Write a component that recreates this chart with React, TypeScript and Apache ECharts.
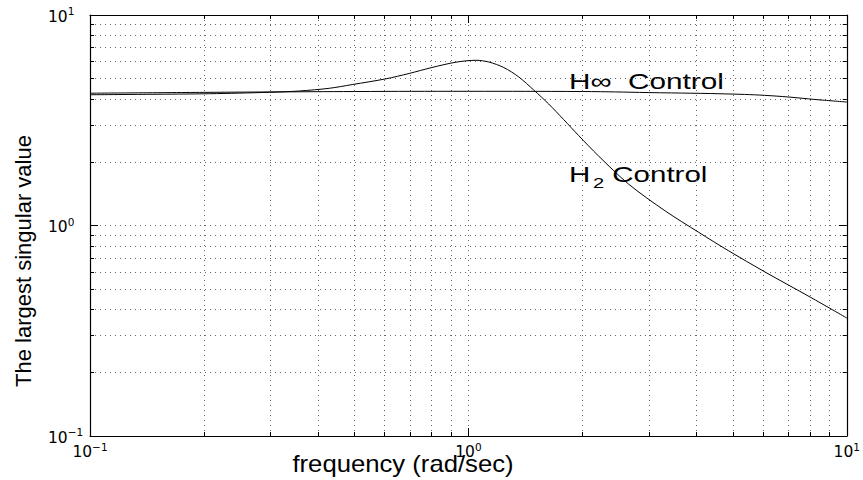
import React, { useEffect, useRef } from "react";
import * as echarts from "echarts";

// H2 control: largest singular value vs frequency (rad/sec)
const freqH2 = [0.1, 0.144, 0.207, 0.298, 0.3575, 0.429, 0.493, 0.606, 0.697, 0.801, 0.927, 1.047, 1.132, 1.24, 1.359, 1.488, 1.63, 1.785, 1.955, 2.208, 2.648, 3.314, 4.05, 4.858, 6.081, 8.037, 10];
const valH2 = [4.18, 4.2, 4.227, 4.293, 4.355, 4.486, 4.671, 4.977, 5.274, 5.631, 5.968, 6.093, 5.981, 5.631, 5.076, 4.402, 3.778, 3.188, 2.677, 2.139, 1.575, 1.172, 0.931, 0.7606, 0.6012, 0.455, 0.3635];

// H-infinity control
const freqHinf = [0.1, 0.2, 0.5, 1, 2, 3, 5, 6.5, 8.5, 10];
const valHinf = [4.25, 4.29, 4.33, 4.34, 4.33, 4.28, 4.21, 4.12, 3.95, 3.86];

const axisMin = 0.1;
const axisMax = 10;

const xTitle = "frequency (rad/sec)";
const yTitle = "The largest singular value";
const labelHinf = "H∞  Control";
const labelH2Main = "H";
const labelH2Sub = "2";
const labelH2Rest = " Control";

const FONT = '"Liberation Sans", Arial, Helvetica, sans-serif';

function expLabel(v: number): string {
  const e = Math.round(Math.log10(v));
  const s = e < 0 ? "\u2212" + Math.abs(e) : String(e);
  return "{b|10}{s|" + s + "}";
}

const labelRich = {
  b: { fontFamily: "DejaVu Sans", fontSize: 15.5, color: "#000", verticalAlign: "bottom" },
  s: { fontFamily: "DejaVu Sans", fontSize: 10.5, color: "#000", verticalAlign: "bottom", padding: [0, 0, 8, 0] },
};

export default function App() {
  const ref = useRef<HTMLDivElement>(null);
  useEffect(() => {
    if (!ref.current) return;
    const chart = echarts.init(ref.current, null, { renderer: "svg" });
    const dotted = { color: "#666", width: 1, type: [1, 4] as any };
    const base = {
      type: "log" as const,
      logBase: 10,
      min: axisMin,
      max: axisMax,
      axisLine: { show: true, onZero: false, lineStyle: { color: "#000", width: 1.2 } },
      axisTick: { show: true, inside: true, length: 8, lineStyle: { color: "#000" } },
      minorTick: { show: true, splitNumber: 9, length: 4, lineStyle: { color: "#000" } },
    };
    const option: any = {
      animation: false,
      backgroundColor: "#fff",
      grid: { left: 90, right: 14, top: 15, bottom: 44, containLabel: false },
      xAxis: [
        {
          ...base,
          position: "bottom",
          axisLabel: { show: true, margin: 5, formatter: expLabel, rich: labelRich },
          splitLine: { show: true, lineStyle: dotted },
          minorSplitLine: { show: true, lineStyle: dotted },
        },
        {
          ...base,
          position: "top",
          axisLabel: { show: false },
          splitLine: { show: false },
          minorSplitLine: { show: false },
        },
      ],
      yAxis: [
        {
          ...base,
          position: "left",
          axisLabel: { show: true, margin: 42, align: "left", formatter: expLabel, rich: labelRich },
          splitLine: { show: true, lineStyle: dotted },
          minorSplitLine: { show: true, lineStyle: dotted },
        },
        {
          ...base,
          position: "right",
          axisLabel: { show: false },
          splitLine: { show: false },
          minorSplitLine: { show: false },
        },
      ],
      series: [
        {
          name: "H2 Control",
          type: "line",
          xAxisIndex: 0,
          yAxisIndex: 0,
          data: freqH2.map((f, i) => [f, valH2[i]]),
          showSymbol: false,
          smooth: 0.3,
          lineStyle: { color: "#000", width: 1 },
          z: 5,
        },
        {
          name: "H∞ Control",
          type: "line",
          xAxisIndex: 0,
          yAxisIndex: 0,
          data: freqHinf.map((f, i) => [f, valHinf[i]]),
          showSymbol: false,
          smooth: 0.4,
          lineStyle: { color: "#000", width: 1 },
          z: 5,
        },
      ],
      graphic: [
        {
          type: "text",
          x: 23,
          y: 261,
          rotation: Math.PI / 2,
          style: { text: yTitle, font: "22px " + FONT, fill: "#000", align: "center", verticalAlign: "middle" },
        },
        {
          type: "text",
          x: 403,
          y: 464,
          scaleX: 1.07,
          style: { text: xTitle, font: "24px " + FONT, fill: "#000", align: "center", verticalAlign: "middle" },
        },
        {
          type: "text",
          x: 569,
          y: 81,
          scaleX: 1.35,
          style: { text: labelHinf, font: "22px " + FONT, fill: "#000", align: "left", verticalAlign: "middle" },
        },
        {
          type: "text",
          x: 569,
          y: 176.5,
          scaleX: 1.34,
          style: {
            text: "{a|" + labelH2Main + "}{s|" + labelH2Sub + "}{a|" + labelH2Rest + "}",
            align: "left",
            verticalAlign: "middle",
            rich: {
              a: { fontFamily: FONT, fontSize: 22, fill: "#000", verticalAlign: "bottom", padding: [0, 0, 5, 0] },
              s: { fontFamily: FONT, fontSize: 15, fill: "#000", verticalAlign: "bottom", padding: [0, 0, 0, 2] },
            },
          },
        },
      ],
    };
    chart.setOption(option);
    return () => chart.dispose();
  }, []);
  return <div ref={ref} style={{ position: "fixed", left: 0, top: 0, width: 863, height: 480 }} />;
}
